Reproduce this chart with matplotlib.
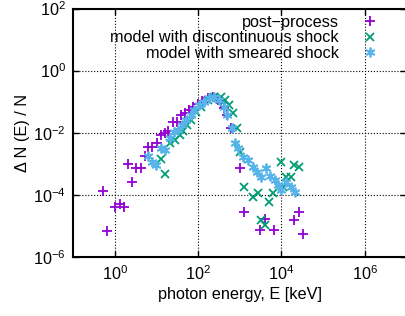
import numpy as np
import matplotlib
matplotlib.use('Agg')
from matplotlib import pyplot as plt
from matplotlib.ticker import LogLocator, NullLocator

# post-process (log10 E, log10 dN/N)
pp_lx = [-0.29, -0.18, 0.00, 0.12, 0.22, 0.32, 0.42, 0.52, 0.62, 0.72, 0.81, 0.89,
         1.01, 1.12, 1.20, 1.28, 1.40, 1.49, 1.60, 1.69, 1.78, 1.88, 1.99, 2.10,
         2.23, 2.35, 2.47, 2.55, 2.63, 2.69, 2.79, 3.01, 3.10, 3.49, 3.60, 3.81,
         4.31, 4.41, 4.52]
pp_ly = [-3.87, -5.16, -4.39, -4.30, -4.39, -2.99, -3.58, -3.15, -3.13, -2.75, -2.45, -2.45,
         -2.34, -2.07, -2.02, -1.94, -1.66, -1.65, -1.43, -1.37, -1.27, -1.18, -1.07, -0.98,
         -0.89, -0.84, -0.94, -1.05, -1.20, -1.43, -1.86, -3.15, -4.55, -5.12, -4.79, -5.14,
         -4.82, -4.56, -5.25]

# model with discontinuous shock
ds_lx = [1.10, 1.21, 1.32, 1.44, 1.56, 1.64, 1.74, 1.83, 1.95, 2.07, 2.23, 2.39,
         2.54, 2.65, 2.74, 2.83, 2.94, 3.01, 3.10, 3.31, 3.43, 3.51, 3.60, 3.71,
         3.80, 3.99, 4.03, 4.11, 4.23, 4.31, 4.41]
ds_ly = [-2.86, -3.33, -2.34, -2.24, -2.07, -1.95, -1.75, -1.59, -1.32, -1.16, -0.95, -0.84,
         -0.84, -0.95, -1.11, -1.37, -1.86, -2.61, -3.74, -4.06, -3.94, -4.82, -4.98, -4.23,
         -3.94, -2.94, -3.74, -3.42, -3.42, -3.04, -3.10]

# model with smeared shock
sm_lx = [0.80, 0.89, 1.00, 1.12, 1.21, 1.32, 1.42, 1.52, 1.61, 1.72, 1.82, 1.91,
         2.03, 2.15, 2.27, 2.39, 2.51, 2.62, 2.70, 2.81, 2.89, 2.97, 3.07, 3.19,
         3.31, 3.41, 3.51, 3.63, 3.73, 3.84, 3.92, 4.00, 4.11, 4.23, 4.33]
sm_ly = [-2.75, -2.94, -3.04, -2.50, -2.56, -2.18, -1.97, -1.91, -1.75, -1.59, -1.43, -1.27,
         -1.11, -1.00, -0.89, -0.86, -0.95, -1.16, -1.43, -1.86, -2.34, -2.50, -2.77, -2.88,
         -3.10, -3.26, -3.42, -3.15, -3.40, -3.53, -3.69, -3.85, -3.58, -3.74, -3.90]

labels = ['post\u2212process', 'model with discontinuous shock', 'model with smeared shock']
colors = ['#9400d3', '#009e73', '#56b4e9']

plt.rcParams['font.family'] = ['Liberation Sans', 'DejaVu Sans']
fs = 11.7

fig = plt.figure(figsize=(4.06, 3.16), dpi=100)
ax = fig.add_axes([73 / 406, 1 - 257 / 316, (406.5 - 73) / 406, (257 - 8.5) / 316])

ax.plot(10 ** np.array(pp_lx), 10 ** np.array(pp_ly), ls='none', marker='+',
        ms=6.5, mew=1.3, color=colors[0], label=labels[0])
ax.plot(10 ** np.array(ds_lx), 10 ** np.array(ds_ly), ls='none', marker='x',
        ms=5.5, mew=1.3, color=colors[1], label=labels[1])
ax.plot(10 ** np.array(sm_lx), 10 ** np.array(sm_ly), ls='none', marker=(6, 2, 0),
        ms=7, mew=1.3, color=colors[2], label=labels[2])

ax.set_xscale('log')
ax.set_yscale('log')
ax.set_xlim(1e-1, 1e7)
ax.set_ylim(1e-6, 1e2)
ax.xaxis.set_major_locator(LogLocator(base=100))
ax.yaxis.set_major_locator(LogLocator(base=100))
ax.xaxis.set_minor_locator(NullLocator())
ax.yaxis.set_minor_locator(NullLocator())
ax.tick_params(which='major', direction='in', length=4, width=1,
               top=True, right=True, labelsize=fs, pad=5)
ax.grid(True, ls=':', color='black', lw=0.8)

for s in ax.spines.values():
    s.set_linewidth(1.5)

ax.set_xlabel('photon energy, E [keV]', fontsize=fs, labelpad=3)
ax.set_ylabel('\u0394 N (E) / N', fontsize=fs, labelpad=2)

leg = ax.legend(loc='upper right', bbox_to_anchor=(0.95, 1.0), frameon=False,
                markerfirst=False, handlelength=1.6, handletextpad=1.12,
                labelspacing=0.02, fontsize=fs, borderaxespad=0.0)

fig.savefig('out.png', dpi=100)
